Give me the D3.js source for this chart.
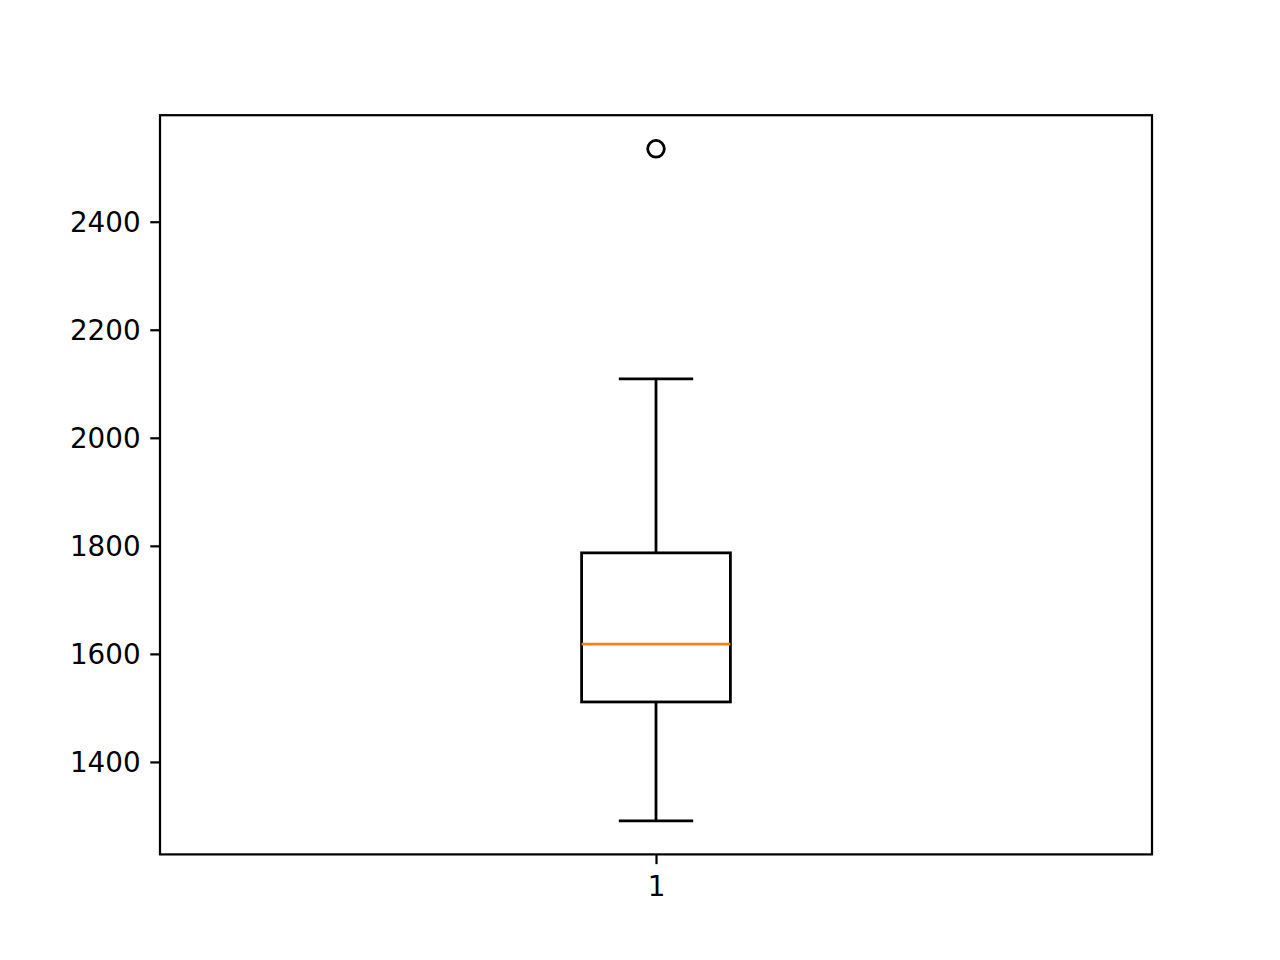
<!DOCTYPE html>
<html lang="en">
	<head>
		<meta charset="utf-8">
		<title>Boxplot</title>
		<script src="https://d3js.org/d3.v7.js"></script>
		<style>
			body { margin: 0; background: white; overflow: hidden; }
			svg { display: block; }
			text { font-family: "DejaVu Sans", sans-serif; }
		</style>
	</head>

	<body>
		<script>
			// data
			const categories = ["1"];
			const whiskerLow = [1291];
			const q1 = [1511];
			const median = [1618];
			const q3 = [1787];
			const whiskerHigh = [2109];
			const outliers = [[2535]];
			const yTicks = [1400, 1600, 1800, 2000, 2200, 2400];

			const w = 1280;
			const h = 960;
			const margin = {top: 115.2, right: 128, bottom: 105.6, left: 160};
			const innerWidth = w - margin.left - margin.right;
			const innerHeight = h - margin.top - margin.bottom;
			const px = 200 / 72;   // one point in pixels

			const svg = d3.select("body")
				.append("svg")
				.attr("width", w)
				.attr("height", h);

			const g = svg.append("g")
				.attr("transform", `translate(${margin.left}, ${margin.top})`);

			// positions 1..n, limits like matplotlib
			const xScale = d3.scaleLinear()
				.domain([0.5, categories.length + 0.5])
				.range([0, innerWidth]);

			const allVals = whiskerLow.concat(whiskerHigh, outliers.flat());
			const lo = d3.min(allVals), hi = d3.max(allVals);
			const pad = (hi - lo) * 0.05;
			const yScale = d3.scaleLinear()
				.domain([lo - pad, hi + pad])
				.range([innerHeight, 0]);

			const boxW = 0.15;

			categories.forEach(function(c, i) {
				const pos = i + 1;
				const cx = xScale(pos);
				const x0 = xScale(pos - boxW / 2), x1 = xScale(pos + boxW / 2);
				const c0 = xScale(pos - boxW / 4), c1 = xScale(pos + boxW / 4);
				const lw = px;

				// whiskers
				g.append("line").attr("x1", cx).attr("x2", cx)
					.attr("y1", yScale(q1[i])).attr("y2", yScale(whiskerLow[i]))
					.attr("stroke", "black").attr("stroke-width", lw);
				g.append("line").attr("x1", cx).attr("x2", cx)
					.attr("y1", yScale(q3[i])).attr("y2", yScale(whiskerHigh[i]))
					.attr("stroke", "black").attr("stroke-width", lw);

				// caps
				[whiskerLow[i], whiskerHigh[i]].forEach(function(v) {
					g.append("line").attr("x1", c0).attr("x2", c1)
						.attr("y1", yScale(v)).attr("y2", yScale(v))
						.attr("stroke", "black").attr("stroke-width", lw);
				});

				// box
				g.append("rect")
					.attr("x", x0)
					.attr("y", yScale(q3[i]))
					.attr("width", x1 - x0)
					.attr("height", yScale(q1[i]) - yScale(q3[i]))
					.attr("fill", "none")
					.attr("stroke", "black")
					.attr("stroke-width", lw);

				// median
				g.append("line").attr("x1", x0).attr("x2", x1)
					.attr("y1", yScale(median[i])).attr("y2", yScale(median[i]))
					.attr("stroke", "#ff7f0e").attr("stroke-width", lw);

				// fliers
				g.selectAll(null).data(outliers[i]).enter().append("circle")
					.attr("cx", cx)
					.attr("cy", d => yScale(d))
					.attr("r", 3 * px)
					.attr("fill", "none")
					.attr("stroke", "black")
					.attr("stroke-width", px);
			});

			// axes
			const xAxis = d3.axisBottom(xScale)
				.tickValues(categories.map((c, i) => i + 1))
				.tickFormat((d, i) => categories[i])
				.tickSize(3.5 * px)
				.tickPadding(3.5 * px + 2);

			const yAxis = d3.axisLeft(yScale)
				.tickValues(yTicks)
				.tickFormat(d3.format("d"))
				.tickSize(3.5 * px)
				.tickPadding(3.5 * px);

			const xg = g.append("g")
				.attr("transform", `translate(0, ${innerHeight})`)
				.call(xAxis);
			const yg = g.append("g").call(yAxis);

			[xg, yg].forEach(function(a) {
				a.select(".domain").remove();
				a.selectAll(".tick line").attr("stroke", "black").attr("stroke-width", 0.8 * px);
				a.selectAll(".tick text")
					.attr("fill", "black")
					.style("font-family", "DejaVu Sans")
					.style("font-size", (10 * px) + "px");
			});
			yg.selectAll(".tick text").attr("dy", "0.36em");

			// frame
			g.append("rect")
				.attr("x", 0).attr("y", 0)
				.attr("width", innerWidth).attr("height", innerHeight)
				.attr("fill", "none")
				.attr("stroke", "black")
				.attr("stroke-width", 0.8 * px);
		</script>
	</body>
</html>
